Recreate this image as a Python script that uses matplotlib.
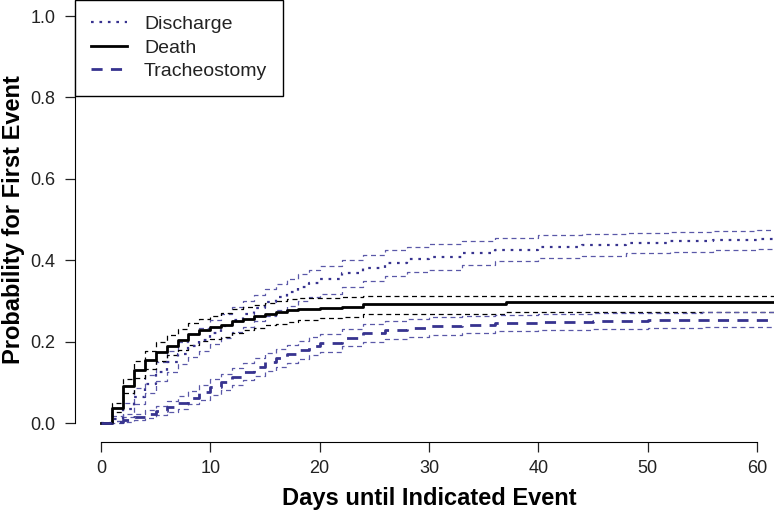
import matplotlib

matplotlib.use("Agg")
import matplotlib.pyplot as plt
import numpy as np

plt.rcParams["font.family"] = ["Liberation Sans", "DejaVu Sans"]

BLUE = "#37338f"
BLUE_CI = "#5a58a8"

# Discharge (cumulative incidence, dotted) with CI band
days_dis = [0, 1, 2, 3, 4, 5, 6, 7, 8, 9, 10, 11, 12, 13, 14, 15, 16, 17, 18, 19, 20,
            22, 24, 26, 28, 30, 33, 36, 40, 44, 48, 52, 56, 60, 66]
dis_est = [0.0, 0.01, 0.035, 0.065, 0.095, 0.125, 0.15, 0.17, 0.19, 0.205, 0.222, 0.238,
           0.253, 0.268, 0.283, 0.297, 0.31, 0.322, 0.333, 0.343, 0.353,
           0.368, 0.382, 0.393, 0.402, 0.409, 0.418, 0.426, 0.433, 0.438, 0.443, 0.447,
           0.45, 0.452, 0.452]
dis_hi = [0.0, 0.018, 0.05, 0.085, 0.118, 0.15, 0.177, 0.198, 0.218, 0.234, 0.252, 0.268,
          0.284, 0.3, 0.315, 0.329, 0.342, 0.354, 0.365, 0.375, 0.385,
          0.4, 0.413, 0.424, 0.433, 0.44, 0.448, 0.455, 0.461, 0.465, 0.468, 0.47,
          0.472, 0.473, 0.473]
dis_lo = [0.0, 0.004, 0.022, 0.047, 0.074, 0.102, 0.125, 0.144, 0.163, 0.178, 0.194, 0.209,
          0.223, 0.237, 0.251, 0.264, 0.277, 0.288, 0.299, 0.309, 0.318,
          0.334, 0.349, 0.36, 0.37, 0.377, 0.388, 0.397, 0.405, 0.411, 0.417, 0.421,
          0.425, 0.427, 0.427]

# Death (solid step) with CI band
days_death = [0, 1, 2, 3, 4, 5, 6, 7, 8, 9, 10, 11, 12, 13, 14, 15, 16, 17, 18, 20,
              22, 24, 37, 66]
death_est = [0.0, 0.037, 0.09, 0.13, 0.155, 0.175, 0.19, 0.205, 0.218, 0.228, 0.235, 0.24,
             0.25, 0.256, 0.262, 0.268, 0.272, 0.277, 0.28, 0.283, 0.286, 0.292, 0.297,
             0.297]
death_hi = [0.0, 0.05, 0.108, 0.152, 0.178, 0.2, 0.216, 0.232, 0.246, 0.256, 0.264, 0.27,
            0.279, 0.285, 0.291, 0.296, 0.3, 0.304, 0.306, 0.308, 0.309, 0.311, 0.313,
            0.313]
death_lo = [0.0, 0.026, 0.073, 0.11, 0.133, 0.152, 0.166, 0.18, 0.192, 0.201, 0.207, 0.212,
            0.222, 0.228, 0.234, 0.24, 0.244, 0.249, 0.253, 0.257, 0.261, 0.267, 0.273,
            0.273]

# Tracheostomy (dashed) with CI band
days_tr = [0, 1, 2, 3, 4, 5, 6, 7, 8, 9, 10, 11, 12, 13, 14, 15, 16, 17, 18, 19, 20,
           22, 24, 26, 28, 30, 33, 36, 40, 45, 50, 55, 60, 66]
tr_est = [0.0, 0.003, 0.008, 0.014, 0.021, 0.03, 0.04, 0.05, 0.062, 0.075, 0.088, 0.1,
          0.113, 0.126, 0.138, 0.149, 0.16, 0.17, 0.18, 0.189, 0.197,
          0.21, 0.221, 0.229, 0.234, 0.238, 0.242, 0.245, 0.248, 0.25, 0.252, 0.253,
          0.254, 0.254]
tr_hi = [0.0, 0.006, 0.014, 0.022, 0.031, 0.042, 0.054, 0.066, 0.079, 0.093, 0.107, 0.12,
         0.134, 0.147, 0.16, 0.171, 0.182, 0.192, 0.202, 0.211, 0.219,
         0.232, 0.243, 0.251, 0.256, 0.26, 0.263, 0.266, 0.268, 0.27, 0.271, 0.272,
         0.273, 0.273]
tr_lo = [0.0, 0.001, 0.003, 0.007, 0.012, 0.019, 0.027, 0.035, 0.046, 0.057, 0.07, 0.081,
         0.093, 0.105, 0.116, 0.127, 0.138, 0.148, 0.158, 0.167, 0.175,
         0.188, 0.199, 0.207, 0.212, 0.216, 0.221, 0.225, 0.228, 0.231, 0.233, 0.235,
         0.236, 0.236]

x_ticks = [0, 10, 20, 30, 40, 50, 60]
y_ticks = [0.0, 0.2, 0.4, 0.6, 0.8, 1.0]

W, H = 774, 516
fig = plt.figure(figsize=(W / 100, H / 100), dpi=100)
ax = fig.add_axes([75 / W, (H - 442) / H, (W - 75) / W, 442 / H])

ci_kw = dict(drawstyle="steps-post", linestyle=(0, (4, 3)), linewidth=0.9)
ax.plot(days_dis, dis_hi, color=BLUE_CI, **ci_kw)
ax.plot(days_dis, dis_lo, color=BLUE_CI, **ci_kw)
ax.plot(days_death, death_hi, color="black", **ci_kw)
ax.plot(days_death, death_lo, color="black", **ci_kw)
ax.plot(days_tr, tr_hi, color=BLUE_CI, **ci_kw)
ax.plot(days_tr, tr_lo, color=BLUE_CI, **ci_kw)

l1, = ax.plot(days_dis, dis_est, color=BLUE, drawstyle="steps-post",
              linestyle=(0, (1.2, 2.6)), linewidth=1.6)
l2, = ax.plot(days_death, death_est, color="black", drawstyle="steps-post",
              linewidth=2.0)
l3, = ax.plot(days_tr, tr_est, color=BLUE, drawstyle="steps-post",
              linestyle=(0, (4, 3)), linewidth=2.0)

ax.set_xlim(-26 / 10.933, (W - 101) / 10.933)
ax.set_ylim(-19 / 407, 1 + 16 / 407)

for side in ("top", "right"):
    ax.spines[side].set_visible(False)
ax.spines["left"].set_bounds(0, 1)
ax.spines["bottom"].set_bounds(0, 60)
ax.set_xticks(x_ticks)
ax.set_xticklabels([str(v) for v in x_ticks])
ax.set_yticks(y_ticks)
ax.set_yticklabels([f"{v:.1f}" for v in y_ticks])
ax.tick_params(direction="out", length=7.2, width=0.9, labelsize=13,
               colors="#222222")
ax.tick_params(axis="y", pad=7)
ax.tick_params(axis="x", pad=6)

leg = ax.legend([l1, l2, l3], ["Discharge", "Death", "Tracheostomy"],
                loc="upper left", bbox_to_anchor=(0, 1), borderaxespad=0,
                fontsize=14, handlelength=1.85, handletextpad=0.9,
                labelspacing=0.3, borderpad=0.8, fancybox=False, framealpha=1)
leg.get_frame().set_edgecolor("black")
leg.get_frame().set_linewidth(1.0)
for t in leg.get_texts():
    t.set_color("#222222")

fig.text(429 / W, 1 - 498 / H, "Days until Indicated Event", ha="center",
         va="center", fontsize=17, fontweight="bold")
fig.text(14 / W, 1 - 220 / H, "Probability for First Event", ha="center",
         va="center", rotation=90, fontsize=17, fontweight="bold")

fig.savefig("out.png", dpi=100)
